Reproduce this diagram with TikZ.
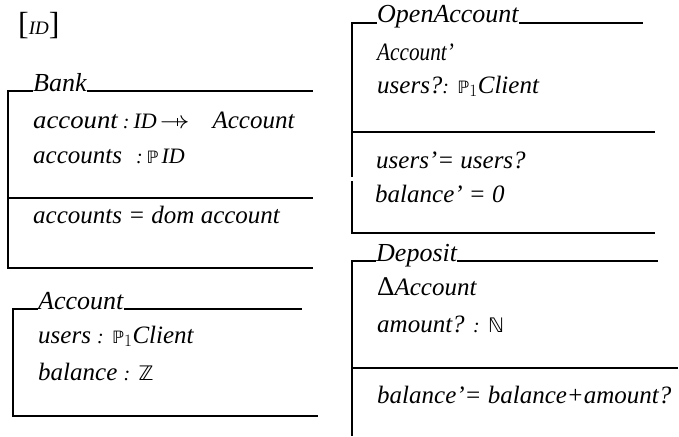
\documentclass[tikz,border=0pt]{standalone}
\usepackage{fontspec}
\usepackage{graphicx}
\setmainfont{Liberation Serif}
\newfontfamily\symfont{DejaVu Sans}
% smaller text inside declarations
\newcommand\smt[1]{{\fontsize{20}{22}\selectfont #1}}
% double-struck set symbols
\newcommand\bb[2][17]{{\symfont\fontsize{#1}{20}\selectfont #2}}
% horizontal squeeze / stretch of a word
\newcommand\hs[2]{\scalebox{#1}[1]{#2}}
% partial function arrow: an arrow crossed by a short bar
\newcommand\pfun{\makebox[0pt][l]{\hspace{17pt}\rule[2pt]{0.9pt}{8.5pt}}\scalebox{1.2}[1]{$\rightarrow$}}
\begin{document}
\begin{tikzpicture}[x=1pt,y=-1pt,
  txt/.style={anchor=base west,inner sep=0pt,font=\fontsize{25}{28}\selectfont\itshape},
  ttl/.style={txt,font=\fontsize{26}{28}\selectfont\itshape},
  rule/.style={line width=1.3pt}]
\useasboundingbox (0,0) rectangle (679,436);

% basic type
\node[txt] (given) at (18,35) {{\upshape\fontsize{32}{34}\selectfont[}{\fontsize{19}{20}\selectfont ID}{\upshape\fontsize{32}{34}\selectfont]}};

% ---- Bank schema
\node[ttl] (bankT) at (33,91) {Bank};
\node[txt] (bank1) at (33,128) {\hs{1.07}{account}\hspace{5pt}\smt{:}\hspace{4pt}{\fontsize{22}{24}\selectfont ID}\hspace{3pt}\pfun\hspace{23pt}Account};
\node[txt] (bank2) at (33,163) {accounts\hspace{14pt}\smt{:}\hspace{4pt}\bb{ℙ}\hspace{3pt}{\fontsize{22}{24}\selectfont ID}};
\node[txt] (bank3) at (33,223) {accounts = dom account};
\draw[rule] (8,91) -- (bankT.base west) (bankT.base east) -- (313,91);
\draw[rule] (8,90.35) -- (8,268) -- (313,268);
\draw[rule] (8,198) -- (313,198);

% ---- Account schema
\node[ttl] (accT) at (38,309) {Account};
\node[txt] (acc1) at (38,343) {users \smt{:} \bb{ℙ}$_1$Client};
\node[txt] (acc2) at (38,380) {balance \smt{:} \bb[20]{ℤ}};
\draw[rule] (13,309) -- (accT.base west) (accT.base east) -- (302,309);
\draw[rule] (13,308.35) -- (13,416) -- (318,416);

% ---- OpenAccount schema
\node[ttl] (openT) at (377,23) {OpenAccount};
\node[txt] (open1) at (377,60) {\hs{0.85}{Account'}};
\node[txt] (open2) at (377,93) {users?\smt{:} \bb{ℙ}$_1$Client};
\node[txt] (open3) at (376,168) {users'= users?};
\node[txt] (open4) at (375,202) {balance' = 0};
\draw[rule] (352,23) -- (openT.base west) (openT.base east) -- (643,23);
\draw[rule] (352,22.35) -- (352,177) (352,181) -- (352,233) -- (655,233);
\draw[rule] (352,132) -- (655,132);

% ---- Deposit schema
\node[ttl] (depT) at (376,261) {Deposit};
\node[txt] (dep1) at (377,295) {{\upshape\fontsize{27}{28}\selectfont Δ}Account};
\node[txt] (dep2) at (377,332) {amount? \smt{:} \bb[20]{ℕ}};
\node[txt] (dep3) at (377,403) {balance'= balance+amount?};
\draw[rule] (352,261) -- (depT.base west) (depT.base east) -- (658,261);
\draw[rule] (352,260.35) -- (352,436);
\draw[rule] (352,368) -- (678,368);
\end{tikzpicture}
\end{document}
